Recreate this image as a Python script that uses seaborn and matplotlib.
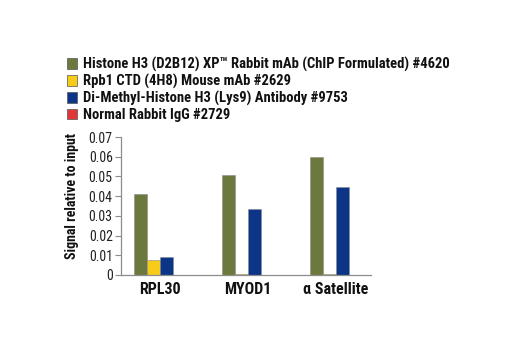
import matplotlib
matplotlib.use("Agg")
import matplotlib.pyplot as plt
import seaborn as sns
import pandas as pd
from matplotlib.patches import Patch

targets = ["RPL30", "MYOD1", "α Satellite"]
series = [
    "Histone H3 (D2B12) XP™ Rabbit mAb (ChIP Formulated) #4620",
    "Rpb1 CTD (4H8) Mouse mAb #2629",
    "Di-Methyl-Histone H3 (Lys9) Antibody #9753",
    "Normal Rabbit IgG #2729",
]
histone_h3 = [0.041, 0.051, 0.060]
rpb1 = [0.0078, 0.0003, 0.0003]
dimethyl_h3k9 = [0.0090, 0.0333, 0.0445]
normal_igg = [0.0, 0.0, 0.0]
yticks = [0, 0.01, 0.02, 0.03, 0.04, 0.05, 0.06, 0.07]
ytick_labels = ["0", "0.01", "0.02", "0.03", "0.04", "0.05", "0.06", "0.07"]

colors = ["#6b7a3c", "#f7cb1a", "#0d3587", "#e23636"]

sns.set_theme(style="white")
FONT = ["Roboto Condensed", "PT Sans Narrow", "Liberation Sans", "DejaVu Sans"]
plt.rcParams["font.family"] = FONT

rows = []
for s, vals in zip(series, [histone_h3, rpb1, dimethyl_h3k9, normal_igg]):
    for t, v in zip(targets, vals):
        rows.append({"target": t, "series": s, "value": v})
df = pd.DataFrame(rows)

fig = plt.figure(figsize=(5.2, 3.5), dpi=100)
ax = fig.add_axes([0.2327, 0.2143, 0.481, 0.394])
sns.barplot(data=df, x="target", y="value", hue="series", palette=colors,
            width=0.6, gap=0, edgecolor="#8a8a8a", linewidth=0.4, ax=ax,
            legend=False, saturation=1)

ax.set_xlim(-0.443, 2.40)
ax.set_ylim(0, 0.07)
ax.set_yticks(yticks)
ax.set_yticklabels(ytick_labels, fontsize=10, color="#222222")
ax.set_xticks(range(len(targets)))
ax.set_xticklabels(targets, fontsize=11.5, fontweight="bold", color="#111111")
ax.set_xlabel("")
ax.set_ylabel("Signal relative to input", fontsize=10, fontweight="bold",
              color="#111111")
ax.yaxis.set_label_coords(-0.166, 0.576)
for side in ["top", "right"]:
    ax.spines[side].set_visible(False)
for side in ["left", "bottom"]:
    ax.spines[side].set_color("#8c8c8c")
    ax.spines[side].set_linewidth(0.9)
ax.tick_params(axis="y", direction="out", length=4, width=0.8, color="#8c8c8c", left=True, pad=2)
ax.tick_params(axis="x", length=0, pad=5)

handles = [Patch(facecolor=c, edgecolor="#555555", linewidth=0.5) for c in colors]
leg = fig.legend(handles, series, loc="upper left", bbox_to_anchor=(0.129, 0.837),
                 frameon=False, handlelength=0.65, handleheight=0.75, handletextpad=0.45,
                 labelspacing=0.14, borderaxespad=0, borderpad=0,
                 prop={"size": 10.5, "weight": "bold", "family": FONT})
for t in leg.get_texts():
    t.set_color("#111111")

fig.savefig("out.png", dpi=100)
